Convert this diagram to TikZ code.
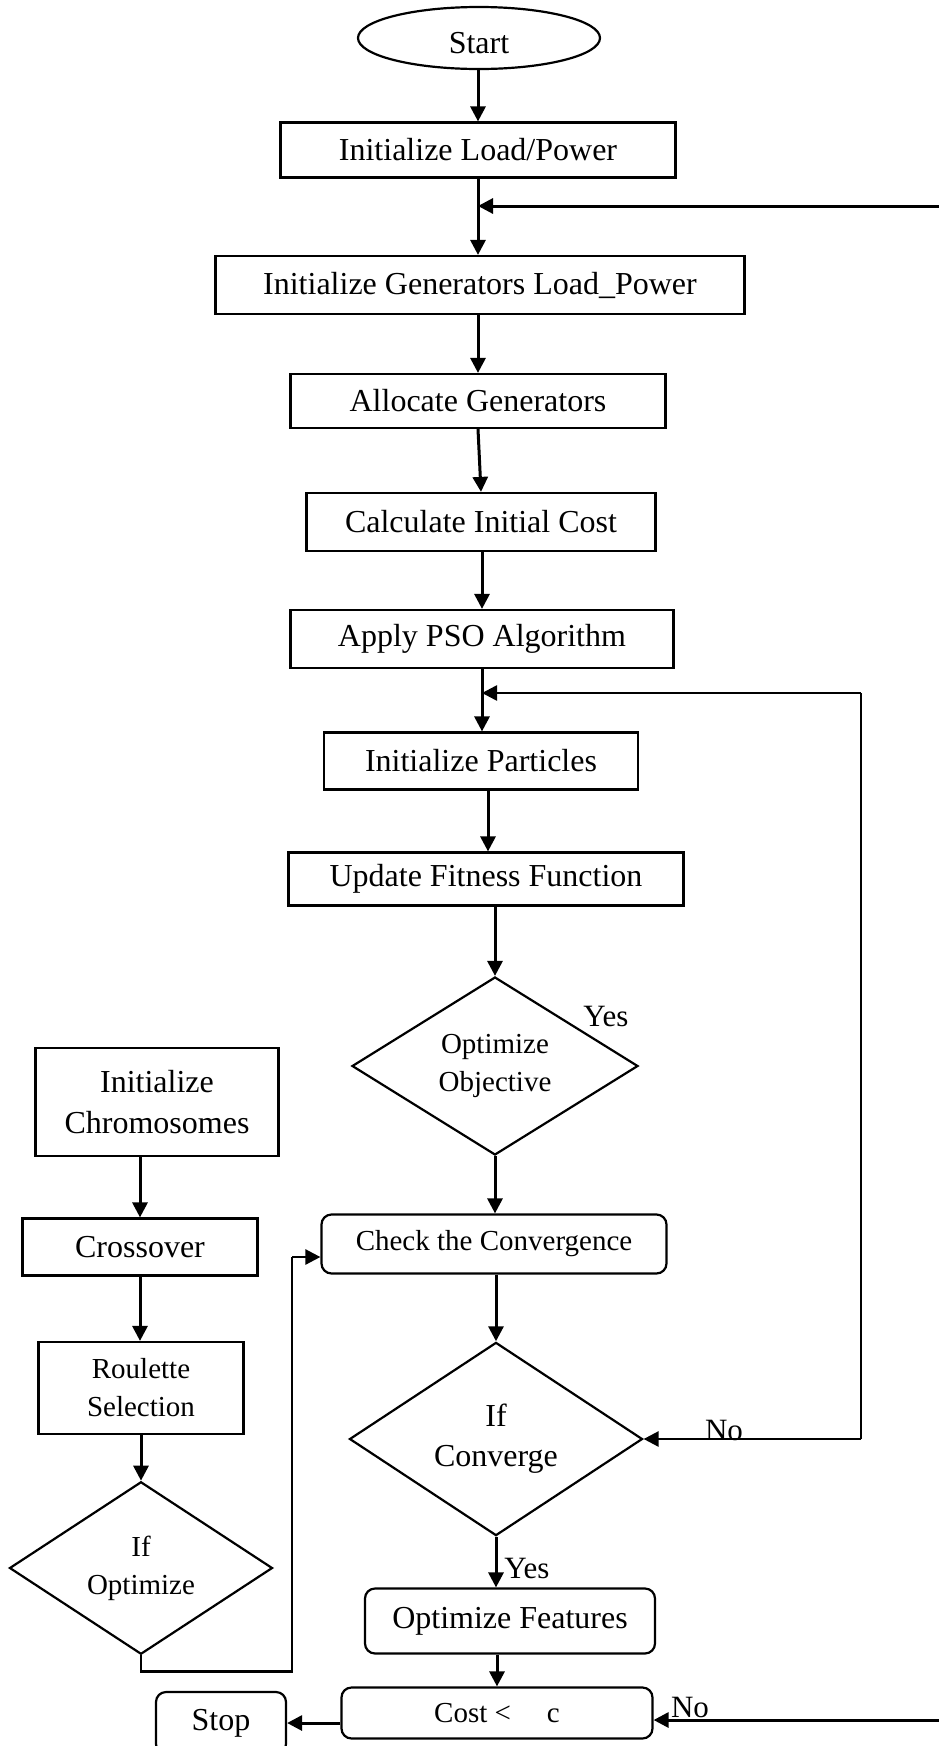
\documentclass[tikz,border=0pt]{standalone}
\usepackage{fontspec}
\setmainfont{Liberation Serif}
\usetikzlibrary{arrows.meta,shapes.geometric,calc}
\begin{document}
\begin{tikzpicture}[x=1pt,y=-1pt,
  box/.style={draw, line width=2.2pt, rectangle, inner sep=0pt, align=center, font=\fontsize{32}{41}\selectfont},
  sbox/.style={box, font=\fontsize{29}{38}\selectfont},
  rbox/.style={box, rounded corners=10pt},
  dia/.style={draw, diamond, line width=2.2pt, inner sep=0pt, align=center},
  arr/.style={line width=3pt, -{Triangle[length=15pt,width=15pt]}},
  tarr/.style={line width=2.6pt, -{Triangle[length=15pt,width=15pt]}},
  tline/.style={line width=2.4pt},
  lbl/.style={inner sep=0pt, font=\fontsize{31}{37}\selectfont}
]
\useasboundingbox (0,0) rectangle (939,1746);

% main column
\node[draw, ellipse, line width=2.2pt, inner sep=0pt, minimum width=242pt, minimum height=62pt, font=\fontsize{32}{38}\selectfont] (start) at (479,38) {\raisebox{-15pt}[0pt][0pt]{Start}};
\node[box, minimum width=395pt, minimum height=55pt] (ilp) at (478,150) {Initialize Load/Power};
\node[box, minimum width=529pt, minimum height=58pt] (ig) at (480,285) {Initialize Generators Load\_Power};
\node[box, minimum width=375pt, minimum height=54pt] (ag) at (478,401) {Allocate Generators};
\node[box, minimum width=349pt, minimum height=58pt] (cic) at (481,522) {Calculate Initial Cost};
\node[box, minimum width=383pt, minimum height=58pt] (pso) at (482,639) {Apply PSO Algorithm};
\node[box, minimum width=314pt, minimum height=57pt] (ip) at (481,761) {Initialize Particles};
\node[box, minimum width=395pt, minimum height=53pt] (uff) at (486,879) {Update Fitness Function};
\node[dia, minimum width=286pt, minimum height=178pt, font=\fontsize{29}{38}\selectfont] (oo) at (495,1066) {Optimize\\Objective};
\node[rbox, minimum width=345pt, minimum height=59pt, font=\fontsize{29}{38}\selectfont] (ctc) at (494,1244) {Check the Convergence};
\node[dia, minimum width=293pt, minimum height=189pt, font=\fontsize{32}{40}\selectfont] (ic) at (496,1439) {If\\Converge};
\node[rbox, minimum width=290pt, minimum height=65pt] (of) at (510,1621) {Optimize Features};
\node[rbox, minimum width=311pt, minimum height=51pt, font=\fontsize{29}{38}\selectfont] (cost) at (497,1713) {Cost <\hspace{36pt}c};
\node[rbox, minimum width=130pt, minimum height=62pt] (stop) at (221,1723) {Stop};

% left column
\node[box, minimum width=243pt, minimum height=108pt] (ichr) at (157,1102) {Initialize\\Chromosomes};
\node[box, minimum width=235pt, minimum height=57pt] (cross) at (140,1247) {Crossover};
\node[sbox, minimum width=205pt, minimum height=92pt] (rs) at (141,1388) {Roulette\\Selection};
\node[dia, minimum width=263pt, minimum height=162pt, font=\fontsize{29}{38}\selectfont] (iop) at (141,1568) {If\\Optimize};

% coordinates for free ends and bends
\coordinate (fbTop) at (945,206);
\coordinate (fbPso) at (861,693);
\coordinate (fbPsoLow) at (861,1439);
\coordinate (fbBot) at (945,1720);
\coordinate (loopA) at (292,1257);

% main arrows
\draw[arr] (start.south -| ilp.north) -- (ilp.north);
\draw[arr] (ilp.south) -- (ilp.south |- ig.north);
\draw[arr] (ig.south -| ag.north) -- (ag.north);
\draw[arr] (ag.south) -- (cic.north);
\draw[arr] (cic.south -| pso.north) -- (pso.north);
\draw[arr] (pso.south) -- (pso.south |- ip.north);
\draw[arr] (ip.south -| 488,0) -- (uff.north -| 488,0);
\draw[arr] (uff.south -| oo.north) -- (oo.north);
\draw[arr] (oo.south) -- (oo.south |- ctc.north);
\draw[arr] (ctc.south -| ic.north) -- (ic.north);
\draw[arr] (ic.south) -- (ic.south |- of.north);
\draw[arr] (of.south -| cost.north) -- (cost.north);
\draw[arr] (stop.east -| cost.west) -- (stop.east);

% feedback arrows
\draw[arr] (fbTop) -- (fbTop -| ilp.south);
\draw[tarr] (fbPso) -- (fbPso -| pso.south);
\draw[tline] (fbPso) -- (fbPsoLow);
\draw[tarr] (fbPsoLow) -- (ic.east);
\draw[arr] (fbBot) -- (fbBot -| cost.east);

% left column arrows
\draw[arr] (ichr.south -| cross.north) -- (cross.north);
\draw[arr] (cross.south) -- (cross.south |- rs.north);
\draw[arr] (rs.south) -- (rs.south |- iop.north);
\draw[tline] (iop.south) -- ++(0,16) -| (loopA);
\draw[tarr] (loopA) -- (loopA -| ctc.west);

% labels
\node[lbl] (yes1) at (606,1016) {Yes};
\node[lbl] (no1) at (724,1430) {No};
\node[lbl] (yes2) at (527,1568) {Yes};
\node[lbl] (no2) at (690,1707) {No};
\end{tikzpicture}
\end{document}
